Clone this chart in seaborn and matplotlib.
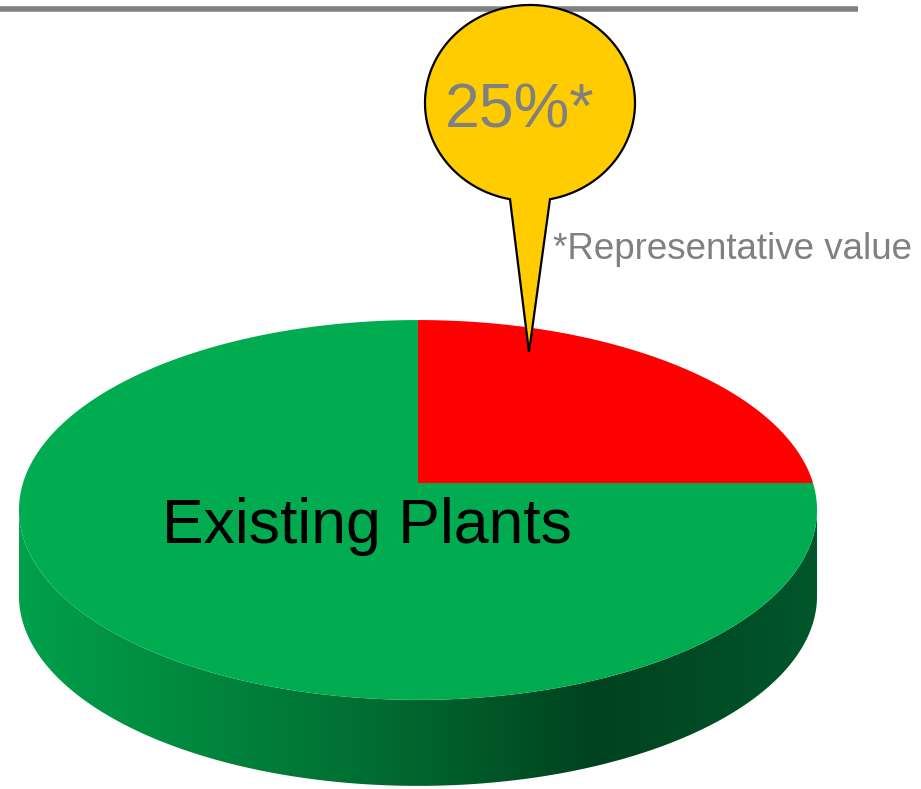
import numpy as np
import matplotlib
matplotlib.use("Agg")
import matplotlib.pyplot as plt
import seaborn as sns
from matplotlib.patches import Polygon
from matplotlib.colors import LinearSegmentedColormap

# data
slice_names = ["Representative share", "Existing Plants"]
slice_values = [25, 75]
slice_colors = ["#FF0000", "#00AC4F"]
slice_labels = ["", "Existing Plants"]
callout_text = f"{slice_values[0]}%*"
footnote = "*Representative value"

sns.set_style("white")
plt.rcParams["font.family"] = ["Liberation Sans", "DejaVu Sans"]

fig = plt.figure(figsize=(9.21, 7.89), dpi=100)
ax = fig.add_axes([0, 0, 1, 1])
ax.set_xlim(0, 921)
ax.set_ylim(789, 0)
ax.axis("off")

# simple perspective view of a flat disc (pixel coords, y down)
cx, rx = 418, 395
a, b, c = 117.5, 483, -0.142
depth = 86


def project(theta, dy=0):
    X, Z = np.cos(theta), np.sin(theta)
    w = 1 + c * Z
    return cx + rx * X / w, (a * Z + b) / w + dy


# side of the cylinder (front half only, between silhouette points)
s = np.arcsin(-c)
t_side = np.linspace(s, np.pi - s, 300)
xt, yt = project(t_side)
xb, yb = project(t_side[::-1], depth)
side = Polygon(np.column_stack([np.r_[xt, xb], np.r_[yt, yb]]),
               closed=True, facecolor="none", edgecolor="none")
ax.add_patch(side)
side_cmap = LinearSegmentedColormap.from_list(
    "side", [(0, "#00A04B"), (0.2, "#008A3F"), (0.45, "#006C31"),
             (0.72, "#00421F"), (1.0, "#00562A")])
grad = np.linspace(0, 1, 400).reshape(1, -1)
im = ax.imshow(grad, cmap=side_cmap, aspect="auto",
               extent=[xt.min(), xt.max(), 800, 480], zorder=1)
im.set_clip_path(side)

# top surface wedges, clockwise from 12 o'clock
apex = (cx, b)
start = -np.pi / 2
total = sum(slice_values)
for val, col in zip(slice_values, slice_colors):
    span = 2 * np.pi * val / total
    tt = np.linspace(start, start + span, 200)
    px, py = project(tt)
    pts = np.column_stack([np.r_[apex[0], px], np.r_[apex[1], py]])
    ax.add_patch(Polygon(pts, closed=True, facecolor=col,
                         edgecolor="none", zorder=2))
    start += span

ax.text(367, 543, slice_labels[1], fontsize=45, color="black",
        ha="center", va="baseline", zorder=5)

# grey rule at top
ax.plot([0, 858], [9, 9], color="#808080", lw=4, solid_capstyle="butt",
        zorder=3)

# callout balloon
ecx, ecy, erx, ery = 530, 103, 105, 98
tip = (529, 352)
half = 20
t0 = np.arcsin(np.clip(half / erx, -1, 1))
tb = np.linspace(np.pi / 2 + t0, np.pi / 2 + 2 * np.pi - t0, 300)
bx = ecx + erx * np.cos(tb)
by = ecy + ery * np.sin(tb)
balloon = np.column_stack([np.r_[bx, tip[0]], np.r_[by, tip[1]]])
ax.add_patch(Polygon(balloon, closed=True, facecolor="#FFCC00",
                     edgecolor="black", lw=1.6, joinstyle="miter", zorder=4))

ax.text(520, 127, callout_text, fontsize=45, color="#808080",
        ha="center", va="baseline", zorder=5)
ax.text(553, 259, footnote, fontsize=26.5, color="#808080",
        ha="left", va="baseline", zorder=5)

fig.savefig("out.png", dpi=100)
